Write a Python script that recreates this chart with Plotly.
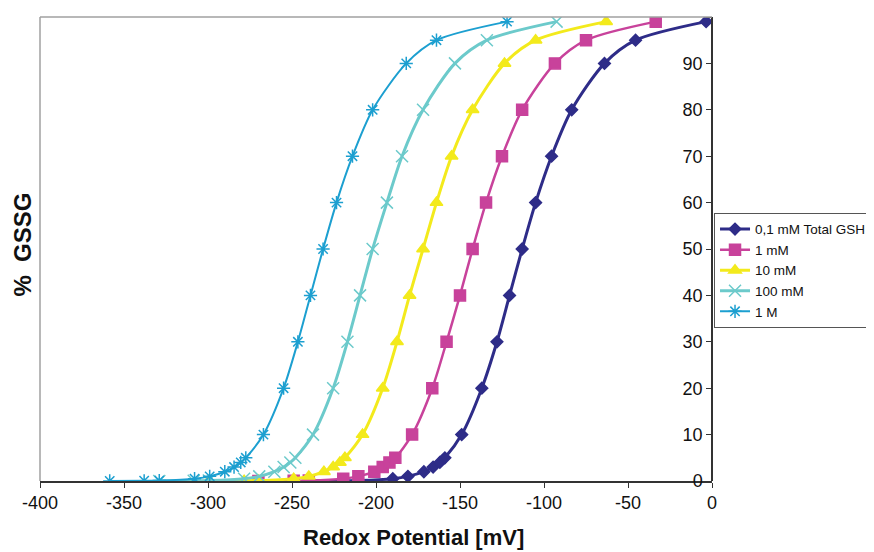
import plotly.graph_objects as go

# % GSSG levels at which points are plotted (shared by all series)
pct_gssg = [0.01, 0.05, 0.1, 0.5, 1, 2, 3, 4, 5, 10, 20, 30, 40, 50, 60, 70, 80, 90, 95, 99]

# Redox potential (mV), per total GSH concentration
e_01mM = [-240, -219.5, -210.5, -190, -181, -171.5, -166, -162, -159, -149, -137, -128, -120.5, -113, -105, -95.5, -83.5, -64, -45.5, -3.5]
e_1mM = [-270, -249, -240, -219.5, -210.5, -201, -196, -192, -188.5, -178.5, -166.5, -158, -150, -142.5, -134.5, -125, -113, -93.5, -75, -33.5]
e_10mM = [-299.5, -278.5, -270, -249, -240, -231, -225.5, -221.5, -218.5, -208, -196, -187.5, -180, -172, -164, -155, -142.5, -123.5, -105, -63]
e_100mM = [-329, -308.5, -299.5, -278.5, -269.5, -260.5, -255, -251, -248, -237.5, -225.5, -217, -209.5, -202, -193.5, -184.5, -172, -153, -134, -92.5]
e_1M = [-358.5, -338, -329, -308, -299, -290, -284.5, -280.5, -277.5, -267, -255, -246.5, -239, -231.5, -223.5, -214, -202, -182, -164, -122]

series_names = ["0,1 mM Total GSH", "1 mM", "10 mM", "100 mM", "1 M"]
series_x = [e_01mM, e_1mM, e_10mM, e_100mM, e_1M]
colors = ["#2E2C88", "#C8429B", "#F3EA1C", "#6CCACB", "#1C9FD0"]
symbols = ["diamond", "square", "triangle-up", "x-thin-open", "asterisk-open"]
msizes = [9, 11, 11, 12, 11]
lwidths = [3, 2.5, 3, 3, 2]

x_ticks = list(range(-400, 1, 50))
y_ticks = list(range(0, 101, 10))

FONT = "Arial, Liberation Sans, sans-serif"

fig = go.Figure()
for name, xs, c, s, ms, lw in zip(series_names, series_x, colors, symbols, msizes, lwidths):
    fig.add_trace(go.Scatter(
        x=xs, y=pct_gssg, name=name, mode="lines+markers",
        line=dict(color=c, width=lw, shape="spline", smoothing=0.8),
        marker=dict(symbol=s, size=ms, color=c, line=dict(color=c, width=1.5)),
    ))

# page body has an 8px margin, so the figure is offset by (8, 8)
fig.update_layout(
    width=866, height=544,
    margin=dict(l=32, r=162, t=9, b=71, autoexpand=False),
    paper_bgcolor="white", plot_bgcolor="white",
    font=dict(family=FONT, size=18, color="#111111"),
    showlegend=True,
    legend=dict(
        x=1.003, y=0.578, xanchor="left", yanchor="top",
        bgcolor="white", bordercolor="#555555", borderwidth=1,
        font=dict(family=FONT, size=13.5, color="#111111"),
        itemwidth=30, tracegroupgap=0,
    ),
    xaxis=dict(
        range=[-400, 0], tickvals=x_ticks, ticktext=[str(v) for v in x_ticks],
        showgrid=False, zeroline=False, automargin=False,
        showline=True, linecolor="#333333", linewidth=1.5,
        ticks="outside", ticklen=5, tickcolor="#333333",
        tickfont=dict(size=18),
    ),
    yaxis=dict(
        range=[0, 100], tickvals=y_ticks,
        anchor="free", position=1.0, side="left",
        showgrid=False, zeroline=False, automargin=False,
        showline=True, linecolor="#333333", linewidth=1.5,
        ticks="outside", ticklen=5, tickcolor="#333333",
        tickfont=dict(size=18),
    ),
    shapes=[
        dict(type="line", xref="paper", yref="paper", x0=0, x1=1, y0=1, y1=1,
             line=dict(color="#A0A0A0", width=1.5)),
        dict(type="line", xref="paper", yref="paper", x0=0, x1=0, y0=0, y1=1,
             line=dict(color="#A0A0A0", width=1.5)),
    ],
    annotations=[
        dict(text="<b>Redox Potential [mV]</b>", xref="paper", yref="paper",
             x=0.5565, y=-0.121, xanchor="center", yanchor="middle",
             showarrow=False, font=dict(family=FONT, size=22, color="#111111")),
        dict(text="<b>%  GSSG</b>", xref="paper", yref="paper",
             x=-0.0265, y=0.51, xanchor="center", yanchor="middle", textangle=-90,
             showarrow=False, font=dict(family=FONT, size=24, color="#111111")),
    ],
)

fig.write_html("out.html")
